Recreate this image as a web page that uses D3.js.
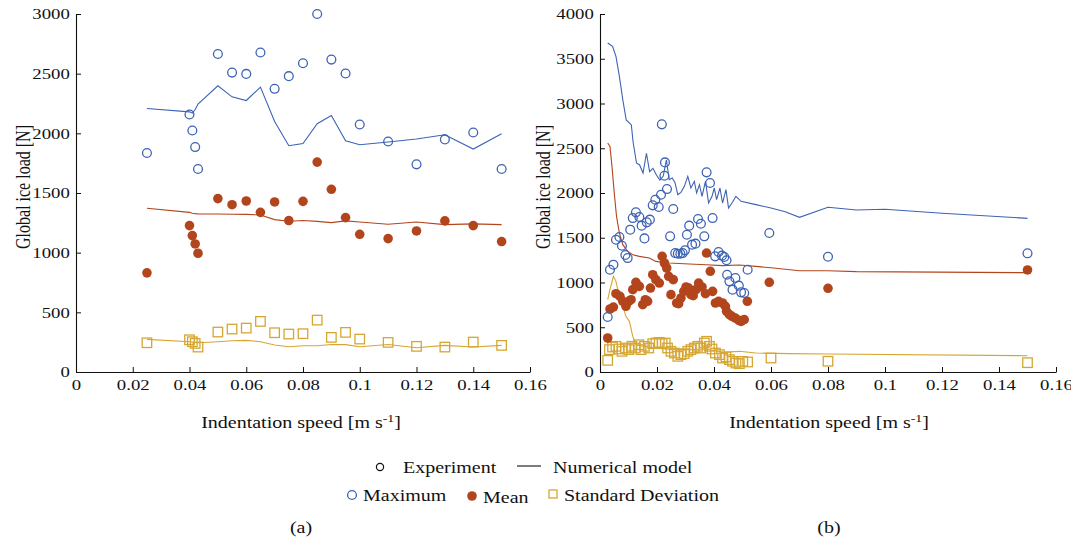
<!DOCTYPE html>
<html>
<head>
<meta charset="utf-8">
<script src="https://cdn.jsdelivr.net/npm/d3@7"></script>
<style>
  body { margin: 0; background: #fff; }
  text { font-family: "Liberation Serif", "Times New Roman", serif; fill: #111; }
</style>
</head>
<body>
<script>
let w = 1071;
let h = 542;
let SX = 1.25; // text in the figure looks stretched sideways

let xTicks = [0, 0.02, 0.04, 0.06, 0.08, 0.1, 0.12, 0.14, 0.16];
let yTicksA = [0, 500, 1000, 1500, 2000, 2500, 3000];
let yTicksB = [0, 500, 1000, 1500, 2000, 2500, 3000, 3500, 4000];

// ---- panel (a)
let speedA = [0.025, 0.04, 0.041, 0.042, 0.043, 0.05, 0.055, 0.06, 0.065, 0.07, 0.075,
              0.08, 0.085, 0.09, 0.095, 0.1, 0.11, 0.12, 0.13, 0.14, 0.15];
let maxExpA  = [1835, 2158, 2024, 1885, 1701, 2665, 2509, 2498, 2677, 2373, 2479,
                2587, 3000, 2618, 2501, 2074, 1932, 1740, 1949, 2007, 1701];
let meanExpA = [831, 1227, 1143, 1073, 995, 1453, 1402, 1433, 1338, 1425, 1269,
                1430, 1759, 1531, 1294, 1154, 1118, 1182, 1266, 1227, 1093];
let stdExpA  = [245, 270, 254, 240, 209, 335, 360, 368, 424, 329, 318,
                321, 435, 290, 332, 276, 248, 215, 209, 251, 223];
let maxModelA  = [2208, 2180, 2170, 2200, 2245, 2398, 2306, 2275, 2387, 2099, 1896,
                  1915, 2080, 2150, 1938, 1904, 1927, 1952, 1988, 1868, 1996];
let meanModelA = [1372, 1338, 1330, 1327, 1325, 1324, 1322, 1321, 1316, 1277, 1263,
                  1269, 1262, 1252, 1266, 1257, 1238, 1257, 1235, 1241, 1235];
let stdModelA  = [273, 254, 250, 247, 245, 254, 262, 265, 254, 226, 212,
                  220, 220, 231, 229, 212, 231, 203, 223, 209, 223];

// ---- panel (b)
let maxSpeedB = [0.0027, 0.0035, 0.0047, 0.0056, 0.0068, 0.0077, 0.0089, 0.0097, 0.0106, 0.0115,
                 0.0126, 0.0138, 0.0146, 0.0156, 0.0164, 0.0175, 0.0185, 0.0194, 0.0206, 0.0214,
                 0.0217, 0.0226, 0.0228, 0.0235, 0.0246, 0.0257, 0.0264, 0.0273, 0.0282, 0.029,
                 0.0298, 0.0305, 0.0313, 0.0323, 0.0335, 0.0344, 0.0354, 0.0366, 0.0374, 0.0386,
                 0.0395, 0.0404, 0.0416, 0.0428, 0.0436, 0.0444, 0.0446, 0.0454, 0.0465, 0.0475,
                 0.0487, 0.0495, 0.0506, 0.0518, 0.0594, 0.08, 0.15];
let maxExpB = [614, 1143, 1199, 1478, 1508, 1411, 1307, 1273, 1590, 1720,
               1784, 1732, 1635, 1493, 1672, 1702, 1862, 1925, 1843, 1981,
               2767, 2193, 2342, 2044, 1516, 1821, 1329, 1322, 1322, 1329,
               1359, 1534, 1635, 1423, 1434, 1709, 1657, 1516, 2231, 2112,
               1720, 1292, 1341, 1300, 1285, 1248, 1087, 1013, 920, 1050,
               965, 890, 883, 1143, 1553, 1288, 1326];
let meanSpeedB = [0.0027, 0.0035, 0.0047, 0.0056, 0.007, 0.008, 0.0091, 0.0101, 0.0109, 0.0115,
                  0.0126, 0.0138, 0.015, 0.0159, 0.0167, 0.0177, 0.0185, 0.0196, 0.0208, 0.0218,
                  0.0226, 0.0234, 0.0241, 0.0249, 0.0257, 0.0269, 0.0276, 0.0284, 0.0294, 0.0302,
                  0.0311, 0.0319, 0.0327, 0.0337, 0.0346, 0.0358, 0.037, 0.0374, 0.0387, 0.0395,
                  0.0405, 0.0416, 0.043, 0.044, 0.0444, 0.0454, 0.0463, 0.0475, 0.0487, 0.0495,
                  0.0506, 0.0517, 0.0594, 0.08, 0.15];
let meanExpB = [380, 704, 726, 875, 845, 790, 734, 790, 808, 920,
                1002, 957, 752, 808, 790, 938, 1087, 1032, 994, 1292,
                1218, 1162, 1069, 864, 1032, 771, 763, 827, 901, 950,
                938, 864, 853, 920, 994, 950, 875, 1329, 1125, 901,
                771, 790, 771, 734, 678, 641, 622, 603, 577, 566,
                585, 790, 1002, 935, 1140];
let stdSpeedB = [0.0027, 0.0033, 0.0044, 0.0056, 0.0066, 0.0077, 0.0089, 0.0101, 0.0112, 0.0124,
                 0.0136, 0.0144, 0.0156, 0.0171, 0.0185, 0.0196, 0.0208, 0.0218, 0.0229, 0.0237,
                 0.0249, 0.0261, 0.0273, 0.0284, 0.0296, 0.0308, 0.0319, 0.0331, 0.0343, 0.0354,
                 0.0366, 0.0374, 0.0384, 0.0393, 0.0405, 0.0419, 0.043, 0.0442, 0.0454, 0.0465,
                 0.0477, 0.0489, 0.0501, 0.0518, 0.06, 0.08, 0.15];
let stdExpB = [130, 250, 279, 287, 257, 231, 268, 250, 287, 268,
               305, 250, 287, 268, 317, 324, 331, 317, 324, 268,
               231, 212, 175, 194, 205, 231, 250, 268, 287, 268,
               324, 343, 287, 257, 212, 194, 156, 168, 138, 119,
               100, 93, 119, 112, 156, 120, 104];

let maxModelSpeedB = [0.0027, 0.0044, 0.0056, 0.0068, 0.008, 0.0092, 0.011, 0.0116, 0.0128, 0.0139,
                      0.0151, 0.0163, 0.0174, 0.0186, 0.0198, 0.021, 0.0222, 0.0233, 0.0243, 0.0253,
                      0.0263, 0.0273, 0.0284, 0.0296, 0.0308, 0.0319, 0.0331, 0.0339, 0.0349, 0.0358,
                      0.037, 0.0381, 0.0393, 0.0401, 0.0409, 0.0421, 0.043, 0.0442, 0.0451, 0.0463,
                      0.0477, 0.0495, 0.0547, 0.06, 0.065, 0.07, 0.08, 0.09, 0.1, 0.12, 0.15];
let maxModelB = [3676, 3638, 3527, 3303, 3042, 2816, 2760, 2573, 2335, 2313,
                 2223, 2444, 2238, 2276, 2201, 2145, 2190, 2369, 2149, 2167,
                 2119, 1981, 2007, 2074, 2186, 2056, 2130, 2000, 2093, 1963,
                 2130, 1888, 1963, 2056, 1925, 2056, 1888, 2037, 1832, 1888,
                 1963, 1907, 1870, 1832, 1790, 1728, 1840, 1810, 1818, 1773, 1717];
let meanModelSpeedB = [0.0027, 0.0035, 0.0042, 0.005, 0.0058, 0.0068, 0.008, 0.0097, 0.0115, 0.0138,
                       0.0173, 0.0196, 0.0243, 0.0313, 0.0372, 0.043, 0.0489, 0.0547, 0.06, 0.07,
                       0.08, 0.09, 0.15];
let meanModelB = [2558, 2521, 2298, 2000, 1739, 1553, 1423, 1348, 1311, 1292,
                  1274, 1236, 1218, 1207, 1199, 1188, 1195, 1180, 1165, 1132,
                  1132, 1121, 1110];
let stdModelSpeedB = [0.0027, 0.0035, 0.0047, 0.0056, 0.0068, 0.008, 0.0091, 0.0103, 0.0115, 0.0126,
                      0.015, 0.0196, 0.0255, 0.0313, 0.0372, 0.043, 0.0489, 0.0547, 0.0664, 0.08, 0.15];
let stdModelB = [808, 920, 1069, 1013, 845, 734, 622, 566, 398, 305,
                 287, 268, 250, 250, 257, 220, 231, 212, 205, 201, 182];

let blue = "#3d63b4";
let red = "#b3451d";
let gold = "#d6a632";

let svg = d3.select("body")
            .append("svg")
            .attr("width", w)
            .attr("height", h);

svg.append("rect").attr("width", w).attr("height", h).attr("fill", "#fff");

function drawPanel(o) {
  let x = d3.scaleLinear().domain([0, 0.16]).range([o.left, o.right]);
  let y = d3.scaleLinear().domain([0, o.ymax]).range([372, 14]);
  let g = svg.append("g");

  let xa = g.append("g")
    .attr("transform", "translate(0,372)")
    .call(d3.axisBottom(x).tickValues(xTicks).tickSizeInner(-5).tickSizeOuter(0)
            .tickPadding(7).tickFormat(d3.format("~g")));
  let ya = g.append("g")
    .attr("transform", "translate(" + o.left + ",0)")
    .call(d3.axisLeft(y).tickValues(o.yTicks).tickSizeInner(-5).tickSizeOuter(0)
            .tickPadding(5).tickFormat(d3.format("d")));
  [xa, ya].forEach(a => {
    a.attr("font-size", null).attr("font-family", null);
    a.select(".domain").attr("stroke", "#111").attr("stroke-width", 1.1);
    a.selectAll(".tick line").attr("stroke", "#111");
    a.selectAll("text").attr("font-size", 15).attr("transform", "scale(" + SX + ",1)");
  });

  let line = d3.line().x(d => x(d[0])).y(d => y(d[1]));
  // model lines
  g.append("path").datum(d3.zip(o.stdModelX, o.stdModel))
    .attr("d", line).attr("fill", "none").attr("stroke", gold).attr("stroke-width", 1.1);
  g.append("path").datum(d3.zip(o.meanModelX, o.meanModel))
    .attr("d", line).attr("fill", "none").attr("stroke", red).attr("stroke-width", 1.1);
  g.append("path").datum(d3.zip(o.maxModelX, o.maxModel))
    .attr("d", line).attr("fill", "none").attr("stroke", blue).attr("stroke-width", 1.1);

  // experiments
  g.selectAll(".sd").data(d3.zip(o.stdX, o.std)).enter()
    .append("rect")
      .attr("x", d => x(d[0]) - 4.75)
      .attr("y", d => y(d[1]) - 4.75)
      .attr("width", 9.5)
      .attr("height", 9.5)
      .attr("fill", "none")
      .attr("stroke", gold)
      .attr("stroke-width", 1.3);
  g.selectAll(".mean").data(d3.zip(o.meanX, o.mean)).enter()
    .append("circle")
      .attr("cx", d => x(d[0]))
      .attr("cy", d => y(d[1]))
      .attr("r", 4.8)
      .attr("fill", red);
  g.selectAll(".max").data(d3.zip(o.maxX, o.max)).enter()
    .append("circle")
      .attr("cx", d => x(d[0]))
      .attr("cy", d => y(d[1]))
      .attr("r", 4.4)
      .attr("fill", "none")
      .attr("stroke", blue)
      .attr("stroke-width", 1.3);

  // labels
  g.append("text")
    .attr("transform", "translate(" + o.ylabX + ",187) scale(" + SX + ",1) rotate(-90)")
    .attr("text-anchor", "middle")
    .attr("font-size", 16)
    .text("Global ice load [N]");
  let xl = g.append("text")
    .attr("transform", "translate(" + o.xlabX + ",428) scale(" + SX + ",1)")
    .attr("text-anchor", "middle")
    .attr("font-size", 16);
  xl.append("tspan").text("Indentation speed [m s");
  xl.append("tspan").attr("font-size", 11).attr("dy", -6).text("-1");
  xl.append("tspan").attr("dy", 6).text("]");
  g.append("text")
    .attr("transform", "translate(" + o.xlabX + ",533) scale(" + SX + ",1)")
    .attr("text-anchor", "middle")
    .attr("font-size", 16)
    .text(o.tag);
}

drawPanel({
  left: 76, right: 530, ymax: 3000, yTicks: yTicksA, ylabX: 30, xlabX: 301, tag: "(a)",
  maxX: speedA, max: maxExpA, meanX: speedA, mean: meanExpA, stdX: speedA, std: stdExpA,
  maxModelX: speedA, maxModel: maxModelA, meanModelX: speedA, meanModel: meanModelA,
  stdModelX: speedA, stdModel: stdModelA
});

drawPanel({
  left: 600, right: 1056, ymax: 4000, yTicks: yTicksB, ylabX: 550, xlabX: 829, tag: "(b)",
  maxX: maxSpeedB, max: maxExpB, meanX: meanSpeedB, mean: meanExpB, stdX: stdSpeedB, std: stdExpB,
  maxModelX: maxModelSpeedB, maxModel: maxModelB, meanModelX: meanModelSpeedB, meanModel: meanModelB,
  stdModelX: stdModelSpeedB, stdModel: stdModelB
});

// legend
let lg = svg.append("g");
function legText(x, y, s) {
  lg.append("text")
    .attr("transform", "translate(" + x + "," + y + ") scale(" + SX + ",1)")
    .attr("font-size", 16)
    .text(s);
}
lg.append("circle").attr("cx", 380).attr("cy", 467).attr("r", 3.6)
  .attr("fill", "none").attr("stroke", "#111").attr("stroke-width", 1.2);
legText(403, 473, "Experiment");
lg.append("line").attr("x1", 517).attr("x2", 541).attr("y1", 466).attr("y2", 466)
  .attr("stroke", "#111").attr("stroke-width", 1.1);
legText(553, 473, "Numerical model");

lg.append("circle").attr("cx", 352).attr("cy", 495).attr("r", 4.4)
  .attr("fill", "none").attr("stroke", blue).attr("stroke-width", 1.3);
legText(363, 501, "Maximum");
lg.append("circle").attr("cx", 472).attr("cy", 496).attr("r", 4.8).attr("fill", red);
legText(483, 503, "Mean");
lg.append("rect").attr("x", 549).attr("y", 490).attr("width", 8).attr("height", 8)
  .attr("fill", "none").attr("stroke", gold).attr("stroke-width", 1.3);
legText(564, 501, "Standard Deviation");
</script>
</body>
</html>
